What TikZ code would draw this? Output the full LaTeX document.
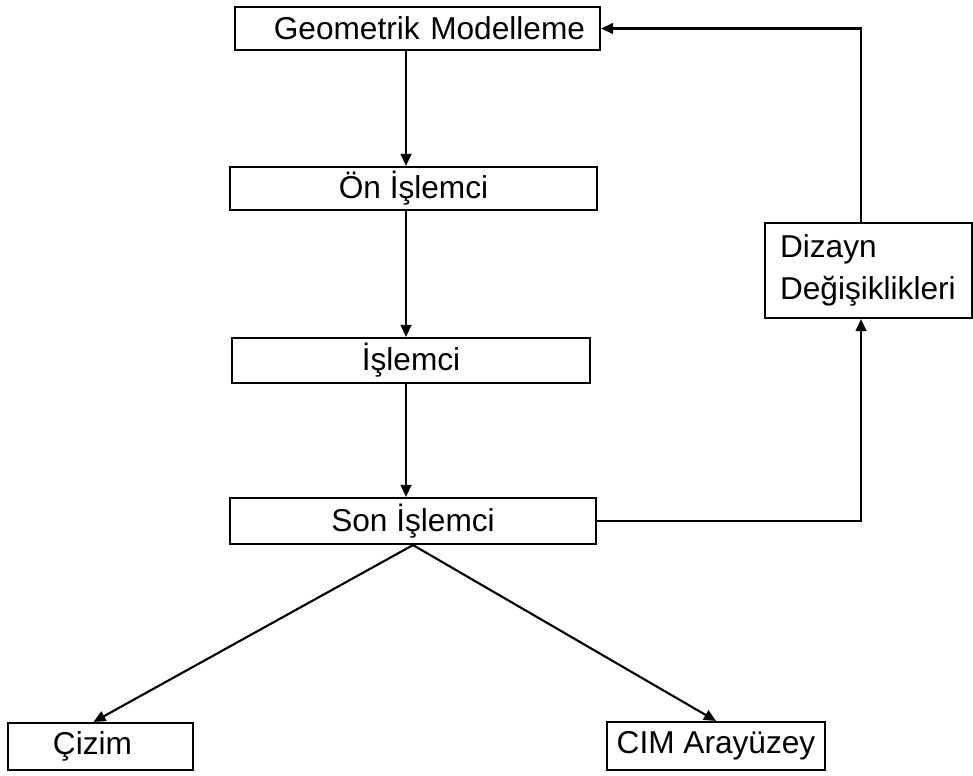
\documentclass[tikz,border=0pt]{standalone}
\usepackage{fontspec}
\setmainfont{Liberation Sans}
\usepackage{tikz}
\usetikzlibrary{arrows.meta, positioning, calc}

\begin{document}
\begin{tikzpicture}[
    x=0.03cm, y=-0.03cm,
    box/.style={rectangle, draw=black, line width=1.8pt, minimum height=1.29cm, inner sep=0pt, font=\fontsize{27}{36}\selectfont},
    arrow/.style={-{Triangle[length=0.36cm, width=0.32cm]}, line width=1.8pt}
]
\useasboundingbox (0,0) rectangle (973,775);

% Geometrik Modelleme
\node[box, minimum width=10.95cm, text width=10.05cm, align=right, inner xsep=0.45cm] (geo) at (417.5,28.5) {Geometrik Modelleme};

% processing chain
\node[box, minimum width=11.01cm] (pre) at (413.5,188.5) {Ön İşlemci};
\node[box, minimum width=10.74cm, minimum height=1.35cm] (proc) at (411,360.5) {İşlemci};
\node[box, minimum width=10.98cm, minimum height=1.38cm] (post) at (413,521) {Son İşlemci};

% Dizayn Degisiklikleri
\node[box, minimum width=6.21cm, minimum height=2.85cm, text width=5.31cm, align=left, inner xsep=0.45cm] (design) at (868.5,270.5) {Dizayn\\Değişiklikleri};

% outputs
\node[box, minimum width=5.55cm, minimum height=1.41cm, text width=2.85cm, align=left, inner xsep=1.35cm] (drawing) at (100.5,746.5) {Çizim};
\node[box, minimum width=6.54cm, minimum height=1.44cm] (cim) at (716,746) {CIM Arayüzey};

% Arrows
\coordinate (spine) at (406,0);
\coordinate (loop) at (861,0);
\draw[arrow] (geo.south -| spine) -- (pre.north -| spine);
\draw[arrow] (pre.south -| spine) -- (proc.north -| spine);
\draw[arrow] (proc.south -| spine) -- (post.north -| spine);
\draw[arrow] (post.east) -| (loop |- design.south);
\draw[arrow] (design.north -| loop) |- (geo.east);
\draw[arrow] (post.south) -- ([xshift=-0.21cm]drawing.north);
\draw[arrow] (post.south) -- (cim.north);

\end{tikzpicture}
\end{document}
